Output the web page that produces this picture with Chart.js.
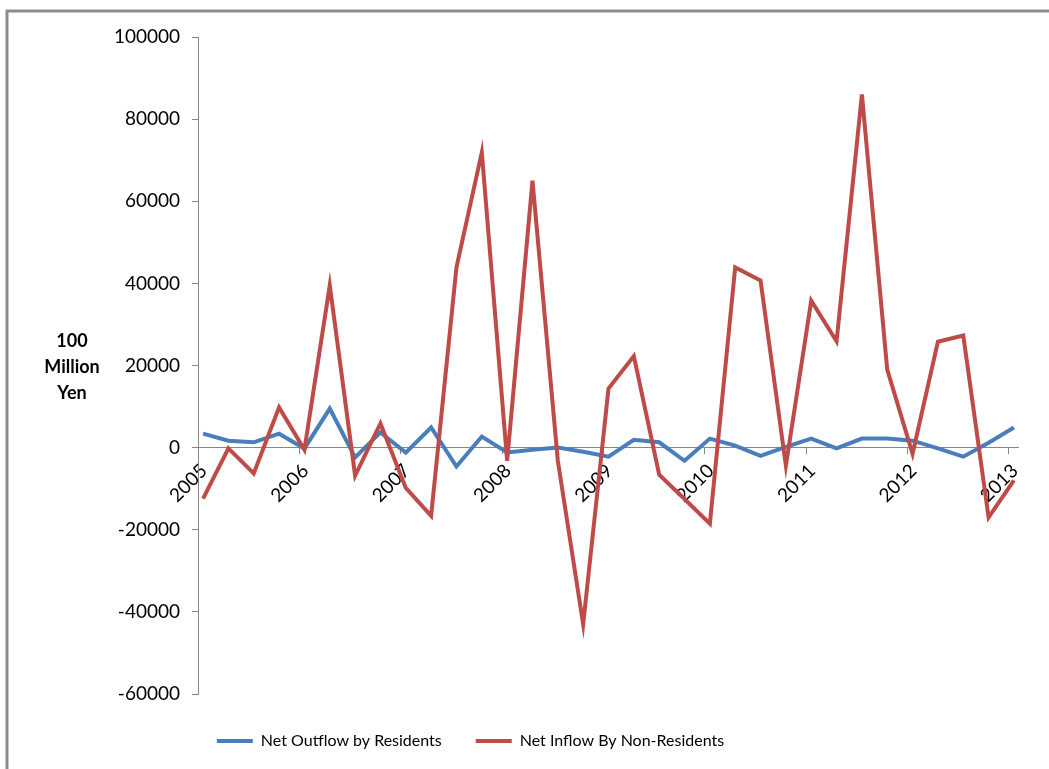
<!DOCTYPE html>
<html>
<head>
<meta charset="utf-8">
<script src="https://cdn.jsdelivr.net/npm/chart.js@4.4.1/dist/chart.umd.min.js"></script>
<style>
    html, body { margin: 0; padding: 0; background: #fff; }
    #contenedor { width: 1049px; height: 769px; position: relative; }
</style>
</head>
<body>
<div id="contenedor"><canvas id="graficoFlujos"></canvas></div>
<script>
// quarterly flows 2005 Q1 .. 2013 Q1, in 100 million yen
const years = ['2005', '2006', '2007', '2008', '2009', '2010', '2011', '2012', '2013'];
const netOutflowResidents = [
    3400, 1700, 1300, 3400, -200, 9500, -2400, 3700, -1200, 4900, -4600,
    2700, -1200, -500, 0, -1000, -2200, 1900, 1300, -3200, 2200, 500,
    -2000, 200, 2200, -200, 2200, 2200, 1700, -200, -2200, 1200, 4900
];
const netInflowNonResidents = [
    -12400, -200, -6300, 9800, -500, 39500, -6800, 5900, -9800, -16600, 43900,
    71900, -3200, 65000, -3200, -43000, 14400, 22300, -6600, -12500, -18500, 43900,
    40700, -4400, 35800, 25900, 86000, 19000, -1500, 25800, 27300, -17000, -8000
];
const seriesNames = ['Net Outflow by Residents', 'Net Inflow By Non-Residents'];
const yTicks = [-60000, -40000, -20000, 0, 20000, 40000, 60000, 80000, 100000];
const yTitle = ['100', 'Million', 'Yen'];

const fuente = 'Lato, "Liberation Sans", sans-serif';
const gris = '#868686';

// year ticks sit a little before each Q1 point
const yearShift = -0.2;

const toPoints = (arr) => arr.map((v, i) => ({ x: i, y: v }));

// marco gris + fondo blanco
const marco = {
    id: 'marco',
    beforeDraw(chart) {
        const ctx = chart.ctx;
        ctx.save();
        ctx.fillStyle = '#fff';
        ctx.fillRect(0, 0, chart.width, chart.height);
        ctx.strokeStyle = '#8c8c8c';
        ctx.lineWidth = 3;
        ctx.strokeRect(7, 11, chart.width + 10, chart.height + 10);
        ctx.restore();
    }
};

// mover la leyenda (abajo y a la izquierda) sin tocar el area del grafico
const moverLeyenda = {
    id: 'moverLeyenda',
    afterLayout(chart) {
        const leyenda = chart.legend;
        if (leyenda) {
            leyenda.top += 5;
            leyenda.bottom += 5;
            leyenda.left -= 63;
            leyenda.right -= 63;
        }
    }
};

// titulo del eje Y, horizontal en tres lineas
const tituloEjeY = {
    id: 'tituloEjeY',
    afterDraw(chart) {
        const ctx = chart.ctx;
        const yMid = chart.scales.y.getPixelForValue(20000) + 2;
        ctx.save();
        ctx.font = 'bold 18px ' + fuente;
        ctx.fillStyle = '#000';
        ctx.textAlign = 'center';
        ctx.textBaseline = 'middle';
        yTitle.forEach((t, i) => {
            ctx.fillText(t, 72, yMid - 26 + i * 26);
        });
        ctx.restore();
    }
};

document.addEventListener('DOMContentLoaded', () => {
    const graficoFlujos = document.getElementById('graficoFlujos');
    new Chart(graficoFlujos, {
        type: 'line',
        data: {
            datasets: [{
                label: seriesNames[0],
                data: toPoints(netOutflowResidents),
                borderColor: '#4A7EBB',
                backgroundColor: '#4A7EBB',
                borderWidth: 4,
                pointRadius: 0,
                tension: 0,
                order: 1
            }, {
                label: seriesNames[1],
                data: toPoints(netInflowNonResidents),
                borderColor: '#BE4B48',
                backgroundColor: '#BE4B48',
                borderWidth: 4,
                pointRadius: 0,
                tension: 0,
                order: 0
            }]
        },
        options: {
            responsive: true,
            maintainAspectRatio: false,
            animation: false,
            layout: { padding: { left: 49, right: 31, top: 37, bottom: 15 } },
            scales: {
                x: {
                    type: 'linear',
                    position: { y: 0 },
                    min: yearShift,
                    max: 32.16,
                    afterBuildTicks: (scale) => {
                        scale.ticks = years.map((y, k) => ({ value: k * 4 + yearShift }));
                    },
                    ticks: {
                        autoSkip: false,
                        minRotation: 45,
                        maxRotation: 45,
                        padding: 6,
                        labelOffset: 6,
                        color: '#000',
                        font: { family: fuente, size: 19 },
                        callback: (v, idx) => years[idx]
                    },
                    grid: { drawOnChartArea: false, drawTicks: true, tickLength: 6, color: gris },
                    border: { color: gris, width: 1 }
                },
                y: {
                    min: -60000,
                    max: 100000,
                    afterBuildTicks: (scale) => {
                        scale.ticks = yTicks.map(v => ({ value: v }));
                    },
                    afterFit: (scale) => { scale.width = 149; },
                    ticks: {
                        padding: 12,
                        color: '#000',
                        font: { family: fuente, size: 19 },
                        callback: (v) => String(v)
                    },
                    grid: { drawOnChartArea: false, drawTicks: true, tickLength: 6, color: gris },
                    border: { color: gris, width: 1 }
                }
            },
            plugins: {
                tooltip: { enabled: false },
                legend: {
                    position: 'bottom',
                    labels: {
                        usePointStyle: true,
                        pointStyle: 'line',
                        pointStyleWidth: 36,
                        padding: 34,
                        color: '#000',
                        font: { family: fuente, size: 16 },
                        sort: (a, b) => a.datasetIndex - b.datasetIndex
                    }
                }
            }
        },
        plugins: [marco, moverLeyenda, tituloEjeY]
    });
});
</script>
</body>
</html>
